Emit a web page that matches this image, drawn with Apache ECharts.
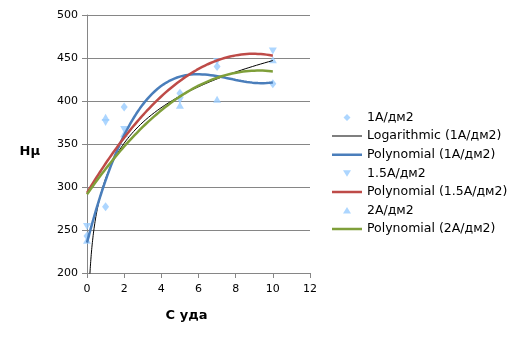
<!DOCTYPE html>
<html>
<head>
<meta charset="utf-8">
<script src="https://cdn.jsdelivr.net/npm/echarts@6/dist/echarts.min.js"></script>
<style>
  html, body { margin: 0; padding: 0; background: #fff; }
  #chart { width: 521px; height: 344px; }
</style>
</head>
<body>
<div id="chart"></div>
<script>
// Current density series: measured microhardness vs. additive concentration
const xValues = [0, 1, 2, 5, 7, 10];
const hv1A = [243, 277, 393, 409, 440, 420];
const hv15A = [254, 375, 367, 401, 446, 458];
const hv2A = [238, 381, 362, 395, 402, 448];

const seriesNames = ['1A/дм2', '1.5A/дм2', '2A/дм2'];
const trendNames = ['Logarithmic (1A/дм2)', 'Polynomial (1A/дм2)', 'Polynomial (1.5A/дм2)', 'Polynomial (2A/дм2)'];
const xTicks = { min: 0, max: 12, step: 2 };
const yTicks = { min: 200, max: 500, step: 50 };

const FONT = 'DejaVu Sans';
const MARKER = '#99CCFF';
const AXIS_GRAY = '#868686';
const COLORS = { log: '#000000', p1: '#4A7EBB', p15: '#BE4B48', p2: '#7F9F3A' };

// Least-squares polynomial fit: returns coefficients c0..cN
function polyFit(xs, ys, order) {
  const n = order + 1;
  const A = [];
  for (let r = 0; r < n; r++) {
    const row = [];
    for (let c = 0; c < n; c++) {
      let s = 0;
      xs.forEach(x => { s += Math.pow(x, r + c); });
      row.push(s);
    }
    let t = 0;
    xs.forEach((x, i) => { t += Math.pow(x, r) * ys[i]; });
    row.push(t);
    A.push(row);
  }
  for (let p = 0; p < n; p++) {
    let best = p;
    for (let r = p + 1; r < n; r++) if (Math.abs(A[r][p]) > Math.abs(A[best][p])) best = r;
    [A[p], A[best]] = [A[best], A[p]];
    for (let r = 0; r < n; r++) {
      if (r === p) continue;
      const f = A[r][p] / A[p][p];
      for (let c = p; c <= n; c++) A[r][c] -= f * A[p][c];
    }
  }
  return A.map((row, i) => row[n] / row[i]);
}

// Logarithmic fit y = a*ln(x) + b over positive x only
function logFit(xs, ys) {
  const px = [], py = [];
  xs.forEach((x, i) => { if (x > 0) { px.push(Math.log(x)); py.push(ys[i]); } });
  const m = px.length;
  const mx = px.reduce((s, v) => s + v, 0) / m;
  const my = py.reduce((s, v) => s + v, 0) / m;
  let sxy = 0, sxx = 0;
  px.forEach((v, i) => { sxy += (v - mx) * (py[i] - my); sxx += (v - mx) * (v - mx); });
  const a = sxy / sxx;
  return { a, b: my - a * mx };
}

function polyCurve(coef, from, to) {
  const pts = [];
  for (let i = 0; i <= 200; i++) {
    const x = from + (to - from) * i / 200;
    let y = 0;
    coef.forEach((c, k) => { y += c * Math.pow(x, k); });
    pts.push([x, y]);
  }
  return pts;
}

function logCurve(fit, from, to) {
  const pts = [];
  for (let i = 0; i <= 200; i++) {
    const x = from * Math.pow(to / from, i / 200);
    pts.push([x, fit.a * Math.log(x) + fit.b]);
  }
  return pts;
}

const pairs = ys => xValues.map((x, i) => [x, ys[i]]);
const xMax = xValues[xValues.length - 1];

const fit1Log = logFit(xValues, hv1A);
const fit1Poly = polyFit(xValues, hv1A, 3);
const fit15Poly = polyFit(xValues, hv15A, 2);
const fit2Poly = polyFit(xValues, hv2A, 2);

const downTriangle = 'path://M0,0 L10,0 L5,9 Z';

// Legend icons inside a 30x8 box; zero-area corner stubs keep the box size
const BOX = 'M0,0 L0.01,0 Z M30,8 L29.99,8 Z ';
const legendIcons = {
  diamond: 'path://' + BOX + 'M15,0.5 L18.5,4 L15,7.5 L11.5,4 Z',
  down: 'path://' + BOX + 'M11,1 L19,1 L15,7.5 Z',
  up: 'path://' + BOX + 'M15,0.5 L19,7 L11,7 Z',
  thin: 'path://' + BOX + 'M0,3.5 L30,3.5 L30,4.5 L0,4.5 Z',
  thick: 'path://' + BOX + 'M0,2.75 L30,2.75 L30,5.25 L0,5.25 Z'
};

function scatter(name, ys, symbol, size) {
  return {
    name, type: 'scatter', data: pairs(ys), symbol, symbolSize: size,
    itemStyle: { color: MARKER }, z: 2
  };
}
function trend(name, data, color, width) {
  return {
    name, type: 'line', data, showSymbol: false, symbol: 'none', smooth: false,
    clip: true, lineStyle: { color, width }, itemStyle: { color }, z: 3,
    silent: true
  };
}

const chart = echarts.init(document.getElementById('chart'), null, { renderer: 'canvas' });
chart.setOption({
  animation: false,
  backgroundColor: '#fff',
  grid: { left: 87, top: 15, width: 223, height: 258, containLabel: false },
  xAxis: {
    type: 'value', min: xTicks.min, max: xTicks.max, interval: xTicks.step,
    name: 'С уда', nameLocation: 'middle', nameGap: 36,
    nameTextStyle: { fontFamily: FONT, fontSize: 13, fontWeight: 'bold', color: '#000', padding: [0, 24, 0, 0] },
    axisLine: { lineStyle: { color: AXIS_GRAY, width: 1 } },
    axisTick: { show: true, length: 5, lineStyle: { color: AXIS_GRAY } },
    axisLabel: { fontFamily: FONT, fontSize: 11, color: '#000', margin: 11 },
    splitLine: { show: false }
  },
  yAxis: {
    type: 'value', min: yTicks.min, max: yTicks.max, interval: yTicks.step,
    name: 'Hμ', nameLocation: 'middle', nameRotate: 0, nameGap: 47,
    nameTextStyle: { fontFamily: FONT, fontSize: 13, fontWeight: 'bold', color: '#000', verticalAlign: 'top', padding: [1, 0, 0, 0] },
    axisLine: { show: true, lineStyle: { color: AXIS_GRAY, width: 1 } },
    axisTick: { show: true, length: 5, lineStyle: { color: AXIS_GRAY } },
    axisLabel: { fontFamily: FONT, fontSize: 11, color: '#000', margin: 9 },
    splitLine: { show: true, lineStyle: { color: AXIS_GRAY, width: 1 } }
  },
  legend: {
    orient: 'vertical', left: 332, top: 111, padding: 0,
    itemWidth: 30, itemHeight: 8, itemGap: 5.6,
    textStyle: { fontFamily: FONT, fontSize: 12.5, color: '#000', lineHeight: 13 },
    data: [
      { name: seriesNames[0], icon: legendIcons.diamond, itemStyle: { color: MARKER } },
      { name: trendNames[0], icon: legendIcons.thin, itemStyle: { color: COLORS.log } },
      { name: trendNames[1], icon: legendIcons.thick, itemStyle: { color: COLORS.p1 } },
      { name: seriesNames[1], icon: legendIcons.down, itemStyle: { color: MARKER } },
      { name: trendNames[2], icon: legendIcons.thick, itemStyle: { color: COLORS.p15 } },
      { name: seriesNames[2], icon: legendIcons.up, itemStyle: { color: MARKER } },
      { name: trendNames[3], icon: legendIcons.thick, itemStyle: { color: COLORS.p2 } }
    ],
    selectedMode: false
  },
  series: [
    scatter(seriesNames[0], hv1A, 'diamond', [7, 9]),
    trend(trendNames[0], logCurve(fit1Log, 0.1, xMax), COLORS.log, 1),
    trend(trendNames[1], polyCurve(fit1Poly, 0, xMax), COLORS.p1, 2.5),
    scatter(seriesNames[1], hv15A, downTriangle, [8, 7]),
    trend(trendNames[2], polyCurve(fit15Poly, 0, xMax), COLORS.p15, 2.5),
    scatter(seriesNames[2], hv2A, 'triangle', [8, 7]),
    trend(trendNames[3], polyCurve(fit2Poly, 0, xMax), COLORS.p2, 2.5)
  ]
});
</script>
</body>
</html>
